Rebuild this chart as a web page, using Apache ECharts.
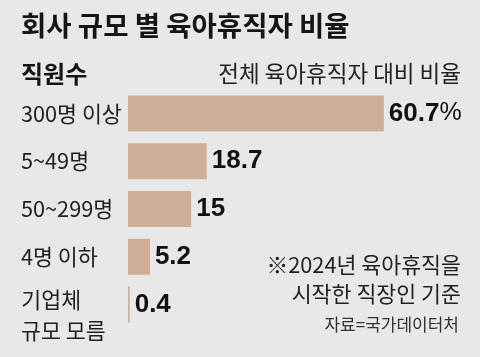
<!DOCTYPE html>
<html><head><meta charset="utf-8">
<script src="https://cdn.jsdelivr.net/npm/echarts@6/dist/echarts.min.js"></script>
<style>html,body{margin:0;padding:0;background:#e8e8e8;}#c{width:480px;height:357px;}</style>
</head><body><div id="c"></div>
<script>
const titleText = '회사 규모 별 육아휴직자 비율';
const axisTitle = '직원수';
const valueTitle = '전체 육아휴직자 대비 비율';
const categories = ['300명 이상', '5~49명', '50~299명', '4명 이하', '기업체\n규모 모름'];
const values = [60.7, 18.7, 15, 5.2, 0.4];
const noteLines = ['※2024년 육아휴직을', '시작한 직장인 기준'];
const sourceText = '자료=국가데이터처';

const KR = '"Noto Sans CJK KR", sans-serif';
const NUM = '"Liberation Sans", sans-serif';
const labelFont = {fontFamily: KR, fontSize: 21.7, color: '#222'};
const chart = echarts.init(document.getElementById('c'), null, {renderer: 'canvas'});
chart.setOption({
  backgroundColor: '#e8e8e8',
  animation: false,
  title: [
    {text: titleText, left: 21, top: 12, padding: 0, textStyle: {fontFamily: KR, fontSize: 27.5, fontWeight: 'bold', color: '#151515'}},
    {text: axisTitle, left: 21, top: 62, padding: 0, textStyle: {fontFamily: KR, fontSize: 24, fontWeight: 'bold', color: '#151515'}},
    {text: valueTitle, right: 19, top: 62, padding: 0, textStyle: {fontFamily: KR, fontSize: 22.5, fontWeight: 'normal', color: '#222'}},
    {text: noteLines[0], right: 19, top: 254, padding: 0, textStyle: {fontFamily: KR, fontSize: 21.7, fontWeight: 'normal', color: '#222'}},
    {text: noteLines[1], right: 19, top: 283, padding: 0, textStyle: {fontFamily: KR, fontSize: 21.7, fontWeight: 'normal', color: '#222'}},
    {text: sourceText, right: 21, top: 316, padding: 0, textStyle: {fontFamily: KR, fontSize: 17, fontWeight: 'normal', color: '#333'}}
  ],
  grid: {left: 128, right: 57, top: 89.5, bottom: 28.5, containLabel: false, outerBoundsMode: 'none'},
  xAxis: {type: 'value', min: 0, max: 70, show: false},
  yAxis: {
    type: 'category', inverse: true,
    data: categories,
    axisLine: {show: false}, axisTick: {show: false},
    axisLabel: Object.assign({
      align: 'left', margin: 107, interval: 0, hideOverlap: false,
      formatter: (v) => {
        const parts = v.split('\n');
        if (parts.length < 2) return v;
        return '{s| }{a|' + parts[0] + '}\n{b|' + parts[1] + '}';
      },
      rich: {
        s: {fontSize: 1, lineHeight: 53, verticalAlign: 'bottom'},
        a: Object.assign({lineHeight: 31, height: 31, verticalAlign: 'bottom'}, labelFont),
        b: Object.assign({lineHeight: 31, height: 31}, labelFont)
      }
    }, labelFont)
  },
  series: [{
    type: 'bar', data: values, barWidth: 36,
    itemStyle: {color: '#cfae96'},
    label: {
      show: true, position: 'right', distance: 5,
      formatter: p => p.dataIndex === 0 ? '{v|' + p.value + '}{p|%}' : '{v|' + p.value + '}',
      rich: {
        v: {fontFamily: NUM, fontSize: 26, fontWeight: 'bold', color: '#111'},
        p: {fontFamily: NUM, fontSize: 25, fontWeight: 'normal', color: '#111'}
      }
    }
  }]
});
</script></body></html>
